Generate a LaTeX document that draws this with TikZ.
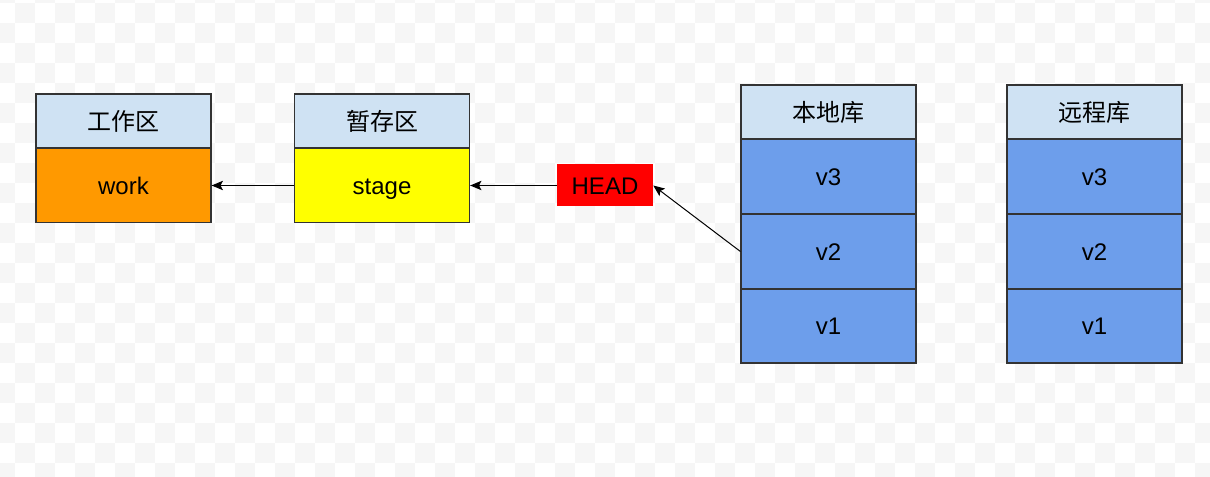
\documentclass[tikz,border=0pt]{standalone}
\usepackage{fontspec}
\setmainfont{Liberation Sans}
\newfontfamily\cjk{Noto Sans CJK SC}
\usetikzlibrary{arrows.meta}
\definecolor{chk}{HTML}{F6F6F6}
\definecolor{hdr}{HTML}{CFE2F3}
\definecolor{orangefill}{HTML}{FF9900}
\definecolor{yellowfill}{HTML}{FFFF00}
\definecolor{bluefill}{HTML}{6D9EEB}
\definecolor{redfill}{HTML}{FF0000}
\definecolor{edge}{HTML}{333333}
\tikzset{
  cell/.style={draw=edge, line width=0.9pt, rectangle, inner sep=0pt,
    minimum width=131.25pt, font=\fontsize{18}{22}\selectfont},
  latin/.style={text height=12.9pt, text depth=0pt},
  hdrbox/.style={cell, fill=hdr, minimum height=40.5pt, font=\fontsize{18}{22}\selectfont\cjk},
  bodybox/.style={cell, latin, minimum height=55.5pt},
  verbox/.style={cell, latin, fill=bluefill, minimum height=56.25pt},
  headbox/.style={rectangle, latin, fill=redfill, draw=none, inner sep=0pt,
    minimum width=72pt, minimum height=31.5pt, font=\fontsize{18}{22}\selectfont},
  conn/.style={draw=black, line width=0.75pt, -{Stealth[length=8.5pt,width=7pt,inset=1.8pt]}}
}
\begin{document}
\begin{tikzpicture}[x=0.75pt,y=-0.75pt]
\useasboundingbox (0,0) rectangle (1210,477);
\fill[white] (0,0) rectangle (1210,477);
\begin{scope}
\clip (0,0) rectangle (1210,477);
\foreach \r in {-1,...,23}{
  \pgfmathtruncatemacro\xs{ifthenelse(mod(\r+2,2)==0,15,-5)}
  \foreach \c in {0,...,30}{
    \fill[chk] ({\xs+40*\c},{3+20*\r}) rectangle ++(20,20);
  }
}
\end{scope}
% work area
\node[hdrbox] (workh) at (123.5,121) {工作区};
\node[bodybox, fill=orangefill] (work) at (123.5,185.5) {work};
% stage
\node[hdrbox] (stageh) at (382,121) {暂存区};
\node[bodybox, fill=yellowfill] (stage) at (382,185.5) {stage};
% HEAD
\node[headbox] (head) at (605,185.5) {HEAD};
% local repo
\node[hdrbox] (localh) at (828.5,112) {本地库};
\node[verbox] (lv3) at (828.5,176.5) {v3};
\node[verbox] (lv2) at (828.5,251.5) {v2};
\node[verbox, minimum height=55.5pt] (lv1) at (828.5,326) {v1};
% remote repo
\node[hdrbox] (remoteh) at (1094.5,112) {远程库};
\node[verbox] (rv3) at (1094.5,176.5) {v3};
\node[verbox] (rv2) at (1094.5,251.5) {v2};
\node[verbox, minimum height=55.5pt] (rv1) at (1094.5,326) {v1};
% connectors
\draw[conn] (stage.west) -- (work.east);
\draw[conn] (head.west) -- (stage.east);
\draw[conn] (lv2.west) -- (head.east);
\end{tikzpicture}
\end{document}
